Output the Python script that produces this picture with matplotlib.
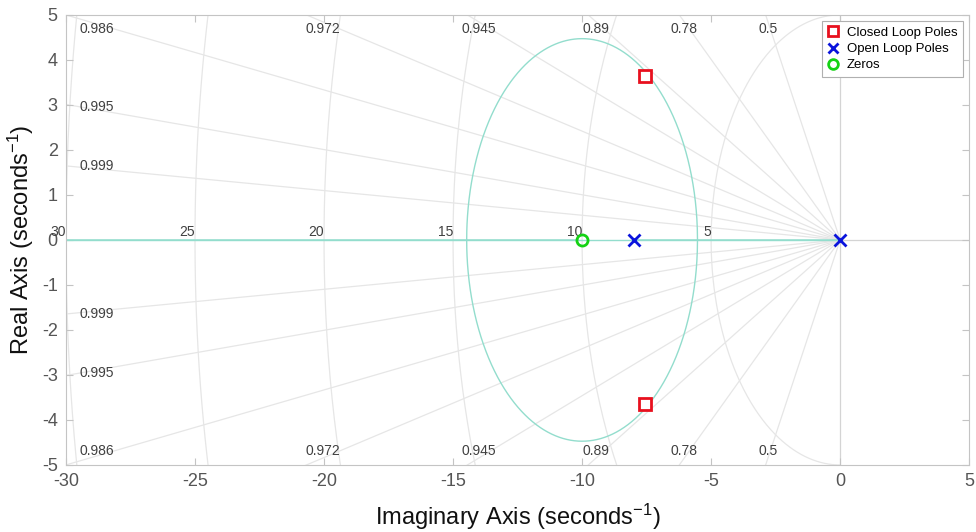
import numpy as np
import matplotlib
matplotlib.use("Agg")
import matplotlib.pyplot as plt
from matplotlib.lines import Line2D

plt.rcParams['font.family'] = ['Liberation Sans', 'DejaVu Sans']
plt.rcParams['mathtext.fontset'] = 'custom'
plt.rcParams['mathtext.rm'] = 'Liberation Sans'
plt.rcParams['mathtext.it'] = 'Liberation Sans'
plt.rcParams['mathtext.default'] = 'regular'
plt.rcParams['axes.unicode_minus'] = False

# ---------------- data ----------------
open_loop_poles = [0.0, -8.0]
open_loop_zeros = [-10.0]
closed_loop_re = [-7.55, -7.55]
closed_loop_im = [3.65, -3.65]

zeta_values = [0.5, 0.78, 0.89, 0.945, 0.972, 0.9864, 0.995, 0.9985]
zeta_labels = ['0.5', '0.78', '0.89', '0.945', '0.972', '0.986', '0.995', '0.999']
wn_values = [5, 10, 15, 20, 25, 30]
wn_labels = ['5', '10', '15', '20', '25', '30']

x_ticks = [-30, -25, -20, -15, -10, -5, 0, 5]
y_ticks = [-5, -4, -3, -2, -1, 0, 1, 2, 3, 4, 5]
x_lim = (-30, 5)
y_lim = (-5, 5)

# ---------------- styles ----------------
GRID_C = '#e6e6e6'
LOCUS_C = '#93ddcd'
SPINE_C = '#c4c4c4'
TICK_TXT = '#555555'
GLABEL_C = '#404040'

fig = plt.figure(figsize=(9.76, 5.32), dpi=100)
ax = fig.add_axes([0.0676, 0.126, 0.9254, 0.846])
ax.set_xlim(*x_lim)
ax.set_ylim(*y_lim)

# damping lines
R = 60.0
for z in zeta_values:
    th = np.arccos(z)
    for sgn in (1, -1):
        ax.plot([0, -R * np.cos(th)], [0, sgn * R * np.sin(th)],
                color=GRID_C, lw=0.9, zorder=1)

# natural frequency semicircles
t = np.linspace(np.pi / 2, 3 * np.pi / 2, 400)
for wn in wn_values:
    ax.plot(wn * np.cos(t), wn * np.sin(t), color=GRID_C, lw=0.9, zorder=1)

# axes lines
ax.axvline(0, color='#d4d4d4', lw=0.9, zorder=1)
ax.plot([0, x_lim[1]], [0, 0], color='#d4d4d4', lw=0.9, zorder=1)
ax.plot([x_lim[0], 0], [0, 0], color=LOCUS_C, lw=1.0, zorder=2)

# root locus computed from poles / zeros
den = np.poly(open_loop_poles)
num = np.poly(open_loop_zeros)
bp = np.roots(np.polysub(np.polymul(num, np.polyder(den)), np.polymul(den, np.polyder(num))))
k_break = [-np.polyval(den, s.real) / np.polyval(num, s.real) for s in bp if abs(s.imag) < 1e-9]
gains = np.unique(np.concatenate([np.linspace(0, 150, 30000), np.array(k_break)]))
br = []
for k in gains:
    r = np.roots(np.polyadd(den, k * num))
    if np.max(np.abs(r.imag)) > 1e-7:
        r = sorted(r, key=lambda c: -c.imag)
    else:
        r = sorted(r, key=lambda c: -c.real)
    br.append(r)
br = np.array(br)
for i in range(br.shape[1]):
    ax.plot(br[:, i].real, br[:, i].imag, color=LOCUS_C, lw=1.0, zorder=2)

# damping labels
for z, lab in zip(zeta_values, zeta_labels):
    slope = np.tan(np.arccos(z))
    x_top = -4.85 / slope
    if x_top > -28.9:
        xl, yl = x_top, 4.69
    else:
        xl, yl = -28.8, min(slope * 28.9 + 0.05, 4.69)
    for sgn in (1, -1):
        ax.text(xl, sgn * yl, lab, ha='center', va='center', fontsize=10,
                color=GLABEL_C, zorder=3)

# natural frequency labels
for wn, lab in zip(wn_values, wn_labels):
    ax.text(-wn, 0.03, lab, ha='right', va='bottom', fontsize=10,
            color=GLABEL_C, zorder=3)

# markers
ax.plot(closed_loop_re, closed_loop_im, ls='none', marker='s', ms=8,
        mfc='white', mec='#e8101e', mew=2, zorder=5)
ax.plot(open_loop_poles, [0] * len(open_loop_poles), ls='none', marker='x',
        ms=8, mec='#0a14dc', mew=2, zorder=5)
ax.plot(open_loop_zeros, [0] * len(open_loop_zeros), ls='none', marker='o',
        ms=8, mfc='none', mec='#14d214', mew=2, zorder=5)

handles = [
    Line2D([], [], ls='none', marker='s', ms=7, mfc='white', mec='#e8101e', mew=2),
    Line2D([], [], ls='none', marker='x', ms=7, mec='#0a14dc', mew=2),
    Line2D([], [], ls='none', marker='o', ms=7, mfc='none', mec='#14d214', mew=2),
]
leg = ax.legend(handles, ['Closed Loop Poles', 'Open Loop Poles', 'Zeros'],
                loc='upper right', fontsize=9.5, frameon=True, fancybox=False,
                framealpha=1, edgecolor='#b0b0b0', borderaxespad=0.5,
                handlelength=1.0, handletextpad=0.5, labelspacing=0.3,
                borderpad=0.4)
leg.get_frame().set_linewidth(0.8)
leg.set_zorder(10)

# ticks / spines
ax.set_xticks(x_ticks)
ax.set_yticks(y_ticks)
ax.tick_params(direction='in', length=5, width=0.8, color=SPINE_C,
               labelcolor=TICK_TXT, labelsize=13, top=True, right=True)
ax.tick_params(axis='x', pad=6)
ax.tick_params(axis='y', pad=6)
for s in ax.spines.values():
    s.set_color(SPINE_C)
    s.set_linewidth(0.8)

ax.set_xlabel('Imaginary Axis (seconds$^{-1}$)', fontsize=17, color='#111111', labelpad=8)
ax.set_ylabel('Real Axis (seconds$^{-1}$)', fontsize=17, color='#111111', labelpad=4)

fig.savefig('out.png', dpi=100)
